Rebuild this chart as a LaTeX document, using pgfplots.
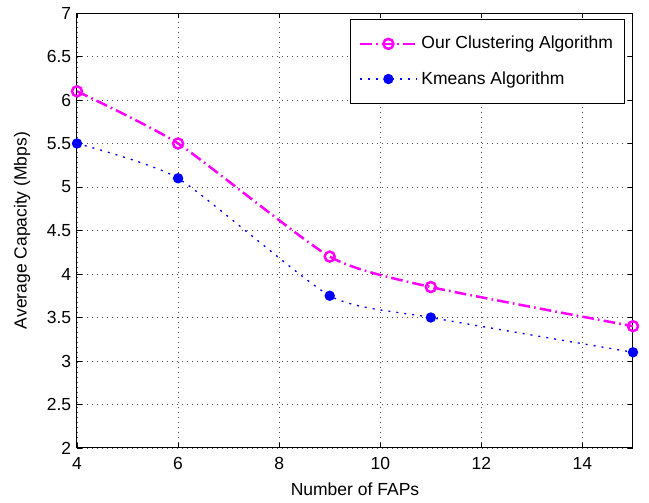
\documentclass[border=0pt]{standalone}
\usepackage{pgfplots}
\pgfplotsset{compat=1.18}
\usepackage{fontspec}
\setmainfont{Liberation Sans}
\definecolor{mag}{rgb}{1,0,1}
\definecolor{blu}{rgb}{0,0,1}
\begin{document}
\begin{tikzpicture}
\useasboundingbox (-46.2pt,-33pt) rectangle (343.2pt,268.8pt);
\begin{axis}[
  scale only axis, width=333.6pt, height=261pt,
  xmin=4, xmax=15, ymin=2, ymax=7,
  xtick={4,6,...,14}, ytick={2,2.5,...,7},
  yticklabel style={/pgf/number format/fixed, /pgf/number format/precision=1},
  /pgf/number format/assume math mode=true,
  tick align=inside, major tick length=3pt,
  tick style={black, line width=0.4pt},
  axis line style={black, line width=0.6pt},
  grid=major, grid style={black!70, line width=0.4pt, dash pattern=on 0.6pt off 2.4pt},
  xlabel={Number of FAPs}, ylabel={Average Capacity (Mbps)},
  xticklabel style={yshift=-2pt},
  xlabel style={yshift=-1pt},
  ylabel style={yshift=3pt},
  every tick label/.append style={font=\fontsize{10.5}{12}\selectfont},
  label style={font=\fontsize{10.5}{12}\selectfont},
  legend style={at={(rel axis cs:0.986,0.986)}, anchor=north east,
    draw=black, line width=0.6pt, font=\fontsize{10.5}{12}\selectfont,
    inner xsep=5pt, inner ysep=8pt, row sep=8pt},
  legend cell align=left,
  legend image code/.code={
    \draw[mark repeat=2, mark phase=2, #1] plot coordinates {(0cm,0cm) (0.6cm,0cm) (1.2cm,0cm)};
  },
]
\addplot[mag, line width=1.5pt, dash pattern=on 7pt off 2.5pt on 1pt off 2.5pt, smooth, tension=0.35,
  mark=o, mark size=3pt, mark options={solid, line width=1.5pt}]
  coordinates {(4,6.1) (6,5.5) (9,4.2) (11,3.85) (15,3.4)};
\addlegendentry{Our Clustering Algorithm}
\addplot[blu, line width=0.8pt, dash pattern=on 1.2pt off 3.6pt, smooth, tension=0.35,
  mark=*, mark size=2.7pt, mark options={solid}]
  coordinates {(4,5.5) (6,5.1) (9,3.75) (11,3.5) (15,3.1)};
\addlegendentry{Kmeans Algorithm}
\end{axis}
\end{tikzpicture}
\end{document}
